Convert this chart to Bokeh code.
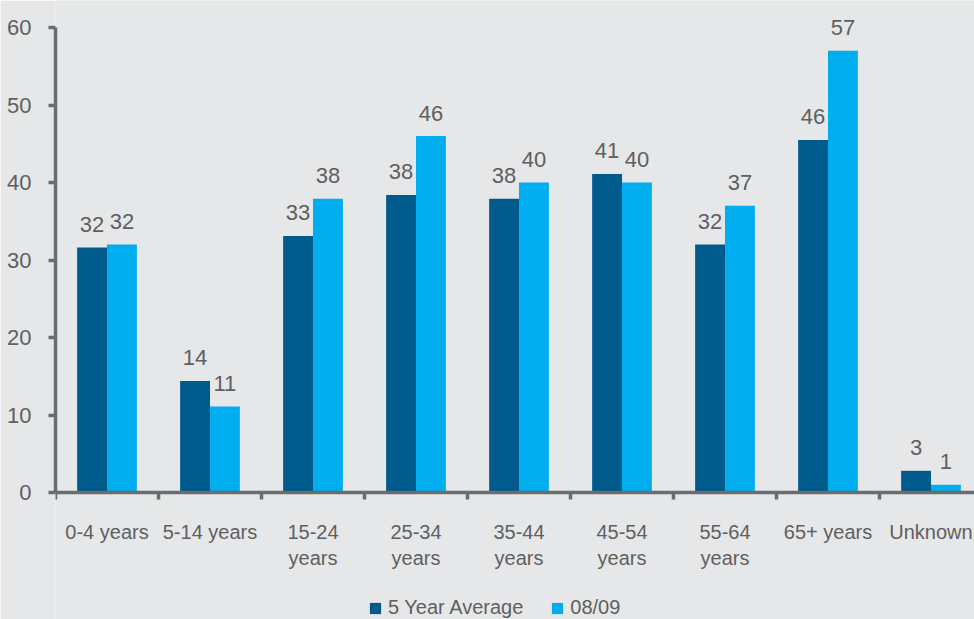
from bokeh.plotting import figure
from bokeh.models import ColumnDataSource, Range1d, FixedTicker, Legend, LegendItem
from bokeh.transform import dodge
from bokeh.core.properties import value
from bokeh.embed import file_html
from bokeh.resources import INLINE

# ---- data ----
categories = ["0-4 years", "5-14 years", "15-24\nyears", "25-34\nyears", "35-44\nyears",
              "45-54\nyears", "55-64\nyears", "65+ years", "Unknown"]
avg5 = [31.6, 14.4, 33.1, 38.4, 37.9, 41.1, 32.0, 45.5, 2.8]
cur = [32.0, 11.1, 37.9, 46.0, 40.0, 40.0, 37.0, 57.0, 1.0]
y_ticks = [0, 10, 20, 30, 40, 50, 60]
series_names = ["5 Year Average", "08/09"]

# ---- style ----
BG = "#e6e7e8"
DARK = "#005a8b"
LIGHT = "#00aeef"
TXT = "#5e5f61"
AX = "#6b6c6e"
FONT = "Liberation Sans"

pos = [i + 0.5 for i in range(len(categories))]
src = ColumnDataSource(dict(
    x=pos, avg=avg5, cur=cur,
    avg_lbl=[str(int(v + 0.5)) for v in avg5],
    cur_lbl=[str(int(v + 0.5)) for v in cur],
))

FW, FH = 919, 619
ZERO_PX = 492          # screen y of the value 0
CAT_PX = 103.0
UNIT_PX = 7.75

p = figure(frame_width=FW, frame_height=FH,
           x_range=Range1d(0, FW / CAT_PX),
           y_range=Range1d(-(FH - ZERO_PX) / UNIT_PX, ZERO_PX / UNIT_PX),
           output_backend="svg", toolbar_location=None,
           min_border_left=55, min_border_right=0, min_border_top=0, min_border_bottom=0,
           background_fill_color=BG, border_fill_color=BG, outline_line_color=None)
p.xgrid.visible = False
p.ygrid.visible = False

off = 0.145
bw = 0.29
r1 = p.vbar(x=dodge('x', -off, range=p.x_range), top='avg', width=bw, source=src,
            fill_color=DARK, line_color=None)
r2 = p.vbar(x=dodge('x', off, range=p.x_range), top='cur', width=bw, source=src,
            fill_color=LIGHT, line_color=None)

for col, lbl, d in (("avg", "avg_lbl", -off), ("cur", "cur_lbl", off)):
    p.text(x=dodge('x', d, range=p.x_range), y=col, text=lbl, source=src,
           text_align="center", text_baseline="alphabetic", y_offset=-23,
           text_font=value(FONT), text_font_size="22px", text_color=TXT)

# y axis
ya = p.yaxis[0]
ya.ticker = FixedTicker(ticks=y_ticks, minor_ticks=[])
ya.bounds = (0, 60)
ya.axis_line_color = AX
ya.axis_line_width = 3.5
ya.major_tick_line_color = AX
ya.major_tick_line_width = 3.5
ya.major_tick_out = 7
ya.major_tick_in = 0
ya.minor_tick_line_color = None
ya.major_label_standoff = 17
ya.major_label_text_font = FONT
ya.major_label_text_font_size = "22px"
ya.major_label_text_color = TXT

# x axis at value 0: labels at category centres, boundary ticks drawn as minor ticks
xa = p.xaxis[0]
xa.fixed_location = 0
xa.ticker = FixedTicker(ticks=pos, minor_ticks=list(range(len(categories) + 1)))
xa.major_label_overrides = {pos[i]: categories[i] for i in range(len(categories))}
xa.axis_line_color = AX
xa.axis_line_width = 3.5
xa.major_tick_line_color = None
xa.major_tick_out = 0
xa.major_tick_in = 0
xa.minor_tick_line_color = AX
xa.minor_tick_line_width = 3.5
xa.minor_tick_out = 7
xa.minor_tick_in = 0
xa.major_label_standoff = 21
xa.major_label_text_font = FONT
xa.major_label_text_font_size = "20px"
xa.major_label_text_color = TXT

legend = Legend(items=[LegendItem(label=series_names[0], renderers=[r1]),
                       LegendItem(label=series_names[1], renderers=[r2])],
                location=(313, 0), orientation="horizontal",
                glyph_width=14, glyph_height=14, label_standoff=6, spacing=27,
                padding=0, margin=0, border_line_color=None, background_fill_alpha=0,
                label_text_font=FONT, label_text_font_size="20px", label_text_color=TXT)
p.add_layout(legend)

open("out.html", "w").write(file_html(p, INLINE))
